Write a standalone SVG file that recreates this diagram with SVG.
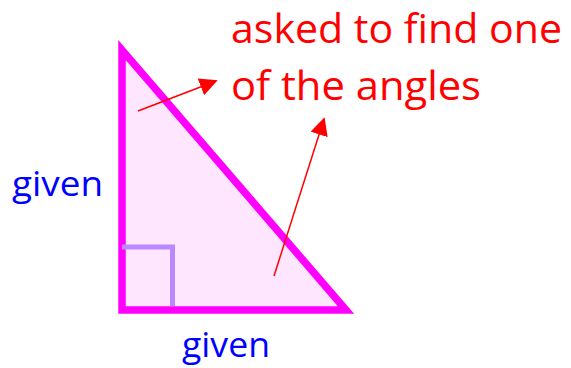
<svg xmlns="http://www.w3.org/2000/svg" width="571" height="368" viewBox="0 0 571 368">
<style>
.red{font-family:"Open Sans","Liberation Sans",sans-serif;font-size:41px;fill:#ff0000}
.blue{font-family:"Open Sans","Liberation Sans",sans-serif;font-size:35px;fill:#0000ff}
.arr{stroke:#ff0000;stroke-width:1.5;fill:none}
</style>
<defs>
<marker id="ah" viewBox="0 0 10 10" refX="9" refY="5" markerWidth="18" markerHeight="18" markerUnits="userSpaceOnUse" orient="auto">
<path d="M0,0 L10,5 L0,10 z" fill="#ff0000"/>
</marker>
</defs>
<g id="triangle">
<polygon points="122,50 122,310 346,310" fill="#ffe6ff" stroke="#ff00ff" stroke-width="7.5" stroke-linejoin="miter" stroke-miterlimit="10"/>
<polyline points="122,247 172.5,247 172.5,306" fill="none" stroke="#bb88ff" stroke-width="5"/>
</g>
<g id="label-left"><text class="blue" x="12" y="196" textLength="91" lengthAdjust="spacingAndGlyphs">given</text></g>
<g id="label-bottom"><text class="blue" x="182" y="357" textLength="88" lengthAdjust="spacingAndGlyphs">given</text></g>
<g id="label-asked">
<text class="red" x="231" y="43" textLength="331" lengthAdjust="spacingAndGlyphs">asked to find one</text>
<text class="red" x="231" y="100" textLength="250" lengthAdjust="spacingAndGlyphs">of the angles</text>
</g>
<g id="connectors">
<line class="arr" x1="138" y1="111" x2="216" y2="81" marker-end="url(#ah)"/>
<line class="arr" x1="274" y1="276" x2="324" y2="119" marker-end="url(#ah)"/>
</g>
</svg>
